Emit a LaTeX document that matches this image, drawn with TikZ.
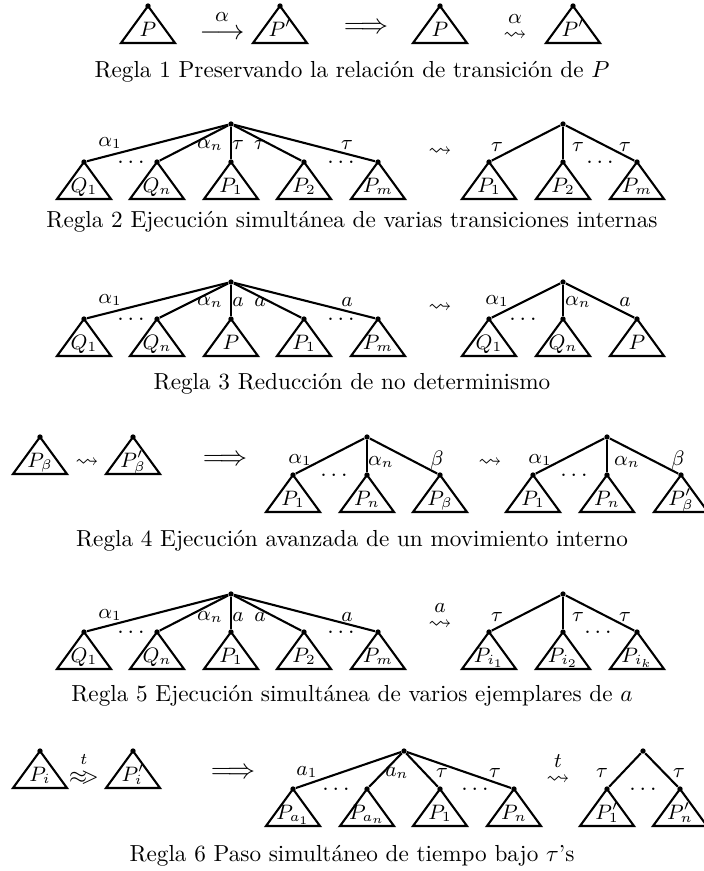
\documentclass[tikz,border=0pt]{standalone}
\usepackage{amsmath,amssymb}
\usetikzlibrary{positioning}

\newcommand{\proc}[4]{%
  \node[dot] (#1) at (#2,#3) {};
  \draw[tri] (#1.center) -- ++(-27,37) -- ++(54,0) -- cycle;
  \node[plbl] (#1-l) at ({#2},{#3+30}) {#4};
}

\begin{document}
\begin{tikzpicture}[x=0.431pt,y=-0.431pt,
    dot/.style={circle,fill=black,inner sep=0pt,minimum size=2.3pt},
    tri/.style={line width=0.9pt,line join=miter},
    edge/.style={line width=0.9pt},
    plbl/.style={anchor=base,font=\small,inner sep=0pt},
    elbl/.style={font=\small,inner sep=0pt},
    dots/.style={inner sep=0pt},
    sym/.style={inner sep=0pt},
    caption/.style={anchor=base,inner sep=0pt}]
  \useasboundingbox (0,0) rectangle (704,871);

  % Regla 1
  \proc{a}{148}{6}{$P$}
  \proc{b}{280}{6}{$P'$}
  \proc{c}{440}{6}{$P$}
  \proc{d}{573}{6}{$P'$}
  \node[sym,font=\large] (t1) at (222,34) {$\longrightarrow$};
  \node[elbl,above=3pt of t1] (t1l) {$\alpha$};
  \node[sym,font=\large] (i1) at (366,28) {$\Longrightarrow$};
  \node[sym] (s1) at (515,36) {$\leadsto$};
  \node[elbl,above=3pt of s1] (s1l) {$\alpha$};
  \node[caption] (c1) at (352,77) {Regla 1 Preservando la relación de transición de $P$};

  % Regla 2
  \node[dot] (r2) at (231,124) {};
  \proc{q21}{84}{162}{$Q_1$}
  \proc{q2n}{157}{162}{$Q_n$}
  \proc{p21}{231}{162}{$P_1$}
  \proc{p22}{304}{162}{$P_2$}
  \proc{p2m}{378}{162}{$P_m$}
  \foreach \k in {q21,q2n,p21,p22,p2m} \draw[edge] (r2) -- (\k);
  \node[elbl] (l21) at (110,143) {$\alpha_1$};
  \node[elbl] (l22) at (210,145) {$\alpha_n$};
  \node[elbl] (l23) at (238,145) {$\tau$};
  \node[elbl] (l24) at (260,145) {$\tau$};
  \node[elbl] (l25) at (347,145) {$\tau$};
  \node[dots] (d21) at (131,162) {$\ldots$};
  \node[dots] (d22) at (341,162) {$\ldots$};
  \node[sym] (s2) at (440,152) {$\leadsto$};
  \node[dot] (r2b) at (563,124) {};
  \proc{u21}{489}{162}{$P_1$}
  \proc{u22}{563}{162}{$P_2$}
  \proc{u2m}{637}{162}{$P_m$}
  \foreach \k in {u21,u22,u2m} \draw[edge] (r2b) -- (\k);
  \node[elbl] (m21) at (497,147) {$\tau$};
  \node[elbl] (m22) at (578,147) {$\tau$};
  \node[elbl] (m23) at (625,147) {$\tau$};
  \node[dots] (e21) at (600,162) {$\ldots$};
  \node[caption] (c2) at (352,227) {Regla 2 Ejecución simultánea de varias transiciones internas};

  % Regla 3
  \node[dot] (r3) at (231,282) {};
  \proc{q31}{84}{319}{$Q_1$}
  \proc{q3n}{157}{319}{$Q_n$}
  \proc{p30}{231}{319}{$P$}
  \proc{p31}{304}{319}{$P_1$}
  \proc{p3m}{378}{319}{$P_m$}
  \foreach \k in {q31,q3n,p30,p31,p3m} \draw[edge] (r3) -- (\k);
  \node[elbl] (l31) at (110,300) {$\alpha_1$};
  \node[elbl] (l32) at (210,302) {$\alpha_n$};
  \node[elbl] (l33) at (238,302) {$a$};
  \node[elbl] (l34) at (260,302) {$a$};
  \node[elbl] (l35) at (347,302) {$a$};
  \node[dots] (d31) at (131,319) {$\ldots$};
  \node[dots] (d32) at (341,319) {$\ldots$};
  \node[sym] (s3) at (440,308) {$\leadsto$};
  \node[dot] (r3b) at (563,282) {};
  \proc{u31}{489}{319}{$Q_1$}
  \proc{u3n}{563}{319}{$Q_n$}
  \proc{u30}{637}{319}{$P$}
  \foreach \k in {u31,u3n,u30} \draw[edge] (r3b) -- (\k);
  \node[elbl] (m31) at (497,301) {$\alpha_1$};
  \node[elbl] (m32) at (578,302) {$\alpha_n$};
  \node[elbl] (m33) at (625,302) {$a$};
  \node[dots] (e31) at (523,319) {$\ldots$};
  \node[caption] (c3) at (352,389) {Regla 3 Reducción de no determinismo};

  % Regla 4
  \proc{f}{40}{437}{$P_\beta$}
  \proc{g}{133}{437}{$P'_\beta$}
  \node[sym] (s4a) at (87,463) {$\leadsto$};
  \node[sym,font=\large] (i4) at (225,460) {$\Longrightarrow$};
  \node[dot] (r4) at (367,437) {};
  \proc{p41}{293}{475}{$P_1$}
  \proc{p4n}{367}{475}{$P_n$}
  \proc{p4b}{440}{475}{$P_\beta$}
  \foreach \k in {p41,p4n,p4b} \draw[edge] (r4) -- (\k);
  \node[elbl] (l41) at (300,460) {$\alpha_1$};
  \node[elbl] (l42) at (381,462) {$\alpha_n$};
  \node[elbl] (l43) at (437,460) {$\beta$};
  \node[dots] (d41) at (334,475) {$\ldots$};
  \node[sym] (s4b) at (490,463) {$\leadsto$};
  \node[dot] (r4b) at (607,437) {};
  \proc{u41}{533}{475}{$P_1$}
  \proc{u4n}{607}{475}{$P_n$}
  \proc{u4b}{681}{475}{$P'_\beta$}
  \foreach \k in {u41,u4n,u4b} \draw[edge] (r4b) -- (\k);
  \node[elbl] (m41) at (540,460) {$\alpha_1$};
  \node[elbl] (m42) at (627,462) {$\alpha_n$};
  \node[elbl] (m43) at (678,460) {$\beta$};
  \node[dots] (e41) at (574,475) {$\ldots$};
  \node[caption] (c4) at (352,546) {Regla 4 Ejecución avanzada de un movimiento interno};

  % Regla 5
  \node[dot] (r5) at (231,594) {};
  \proc{q51}{84}{632}{$Q_1$}
  \proc{q5n}{157}{632}{$Q_n$}
  \proc{p51}{231}{632}{$P_1$}
  \proc{p52}{304}{632}{$P_2$}
  \proc{p5m}{378}{632}{$P_m$}
  \foreach \k in {q51,q5n,p51,p52,p5m} \draw[edge] (r5) -- (\k);
  \node[elbl] (l51) at (110,615) {$\alpha_1$};
  \node[elbl] (l52) at (210,617) {$\alpha_n$};
  \node[elbl] (l53) at (238,617) {$a$};
  \node[elbl] (l54) at (260,617) {$a$};
  \node[elbl] (l55) at (347,617) {$a$};
  \node[dots] (d51) at (131,632) {$\ldots$};
  \node[dots] (d52) at (341,632) {$\ldots$};
  \node[sym] (s5) at (440,625) {$\leadsto$};
  \node[elbl,above=3pt of s5] (s5l) {$a$};
  \node[dot] (r5b) at (563,594) {};
  \proc{u51}{489}{632}{$P_{i_1}$}
  \proc{u52}{563}{632}{$P_{i_2}$}
  \proc{u5k}{637}{632}{$P_{i_k}$}
  \foreach \k in {u51,u52,u5k} \draw[edge] (r5b) -- (\k);
  \node[elbl] (m51) at (497,617) {$\tau$};
  \node[elbl] (m52) at (578,617) {$\tau$};
  \node[elbl] (m53) at (625,617) {$\tau$};
  \node[dots] (e51) at (598,632) {$\ldots$};
  \node[caption] (c5) at (352,701) {Regla 5 Ejecución simultánea de varios ejemplares de $a$};

  % Regla 6
  \proc{h}{40}{751}{$P_i$}
  \proc{k}{133}{751}{$P'_i$}
  \node[sym] (s6a) at (84,778) {$\approx\mkern-5mu>$};
  \node[elbl,font=\scriptsize,above=2.5pt of s6a] (s6al) {$t$};
  \node[sym,font=\large] (i6) at (233,773) {$\Longrightarrow$};
  \node[dot] (r6) at (404,751) {};
  \proc{p6a}{293}{789}{$P_{a_1}$}
  \proc{p6b}{367}{789}{$P_{a_n}$}
  \proc{p61}{440}{789}{$P_1$}
  \proc{p6n}{514}{789}{$P_n$}
  \foreach \k in {p6a,p6b,p61,p6n} \draw[edge] (r6) -- (\k);
  \node[elbl] (l61) at (307,772) {$a_1$};
  \node[elbl] (l62) at (397,773) {$a_n$};
  \node[elbl] (l63) at (442,773) {$\tau$};
  \node[elbl] (l64) at (495,773) {$\tau$};
  \node[dots] (d61) at (336,789) {$\ldots$};
  \node[dots] (d62) at (475,789) {$\ldots$};
  \node[sym] (s6b) at (558,780) {$\leadsto$};
  \node[elbl,above=3pt of s6b] (s6bl) {$t$};
  \node[dot] (r6b) at (643,751) {};
  \proc{u61}{607}{789}{$P'_1$}
  \proc{u6n}{680}{789}{$P'_n$}
  \foreach \k in {u61,u6n} \draw[edge] (r6b) -- (\k);
  \node[elbl] (m61) at (602,773) {$\tau$};
  \node[elbl] (m62) at (679,773) {$\tau$};
  \node[dots] (e61) at (643,789) {$\ldots$};
  \node[caption] (c6) at (352,861) {Regla 6 Paso simultáneo de tiempo bajo $\tau$'s};
\end{tikzpicture}
\end{document}
